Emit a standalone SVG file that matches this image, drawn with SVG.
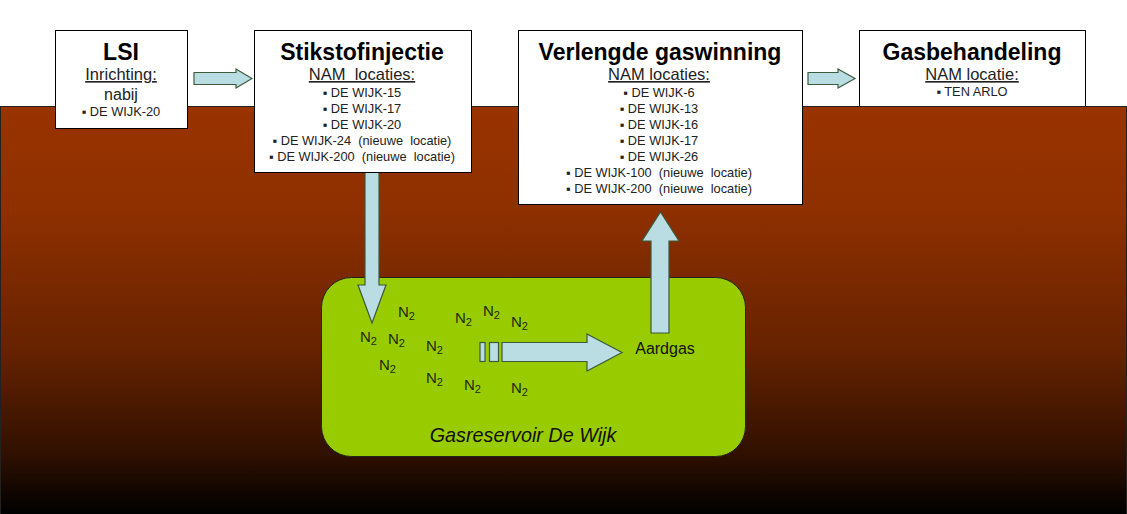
<svg xmlns="http://www.w3.org/2000/svg" width="1127" height="514" viewBox="0 0 1127 514">
<style>
text{font-family:"Liberation Sans",Arial,sans-serif;text-anchor:middle;fill:#111}
.box{fill:#fff;stroke:#000;stroke-width:1}
.t{font-size:23px;font-weight:bold;fill:#000}
.h{font-size:16.500px;text-decoration:underline;fill:#222}
.n{font-size:16px;fill:#222}
.i{font-size:12.800px;fill:#222}
.g{font-size:15px;text-anchor:start;fill:#1c2a00}
.s{font-size:11px;fill:#1c2a00}
.arrow{fill:#b9dde3;stroke:#3c5a3c;stroke-width:1.2}
</style>
<defs>
<linearGradient id="earth" x1="0" y1="0" x2="0" y2="1">
<stop offset="0" stop-color="#993300"/>
<stop offset="0.25" stop-color="#8f3000"/>
<stop offset="0.6" stop-color="#662200"/>
<stop offset="0.85" stop-color="#301000"/>
<stop offset="1" stop-color="#000"/>
</linearGradient>
</defs>
<rect width="1127" height="514" fill="#fff"/>
<g id="gasbehandeling">
<rect class="box" x="859.500" y="30.500" width="226" height="80"/>
<text class="t" x="972" y="59.500">Gasbehandeling</text>
<text class="h" x="972" y="80">NAM locatie:</text>
<text class="i" x="972" y="96">▪ TEN ARLO</text>
</g>
<rect id="ground" x="0.500" y="106.500" width="1126" height="408" fill="url(#earth)" stroke="#222" stroke-width="1"/>
<g id="reservoir">
<rect x="321.500" y="277.500" width="424" height="179" rx="30" ry="30" fill="#99cc00" stroke="#222" stroke-width="1"/>
<text x="523" y="442" font-size="19.800" font-style="italic" fill="#111">Gasreservoir De Wijk</text>
</g>
<g id="connectors">
<polygon class="arrow" points="194,72.500 236,72.500 236,69 252,78.500 236,88 236,84.500 194,84.500"/>
<polygon class="arrow" points="808,72.500 838,72.500 838,69 855,78.500 838,88 838,84.500 808,84.500"/>
<polygon class="arrow" points="365,172 379,172 379,285 386,285 372,323 358,285 365,285"/>
<polygon class="arrow" points="651,333 669,333 669,241 679,241 660.500,212 642,241 651,241"/>
<rect class="arrow" x="480" y="342.500" width="5" height="19"/>
<rect class="arrow" x="489.500" y="342.500" width="9" height="19"/>
<polygon class="arrow" points="502,342.500 587,342.500 587,334 622,352.500 587,371 587,361.500 502,361.500"/>
</g>
<g id="lsi">
<rect class="box" x="55.500" y="30.500" width="132" height="98"/>
<text class="t" x="121" y="59.500">LSI</text>
<text class="h" x="121" y="80">Inrichting:</text>
<text class="n" x="121" y="100">nabij</text>
<text class="i" x="121" y="116">▪ DE WIJK-20</text>
</g>
<g id="stikstofinjectie">
<rect class="box" x="254.500" y="30.500" width="217" height="142"/>
<text class="t" x="362" y="59.500">Stikstofinjectie</text>
<text class="h" x="362" y="80" xml:space="preserve">NAM  locaties:</text>
<text class="i" x="362" y="97">▪ DE WIJK-15</text>
<text class="i" x="362" y="113">▪ DE WIJK-17</text>
<text class="i" x="362" y="129">▪ DE WIJK-20</text>
<text class="i" x="362" y="145" xml:space="preserve">▪ DE WIJK-24  (nieuwe  locatie)</text>
<text class="i" x="362" y="161" xml:space="preserve">▪ DE WIJK-200  (nieuwe  locatie)</text>
</g>
<g id="verlengde">
<rect class="box" x="518.500" y="30.500" width="284" height="174"/>
<text class="t" x="660" y="59.500">Verlengde gaswinning</text>
<text class="h" x="659" y="80">NAM locaties:</text>
<text class="i" x="659" y="97">▪ DE WIJK-6</text>
<text class="i" x="659" y="113">▪ DE WIJK-13</text>
<text class="i" x="659" y="129">▪ DE WIJK-16</text>
<text class="i" x="659" y="145">▪ DE WIJK-17</text>
<text class="i" x="659" y="161">▪ DE WIJK-26</text>
<text class="i" x="659" y="177" xml:space="preserve">▪ DE WIJK-100  (nieuwe  locatie)</text>
<text class="i" x="659" y="193" xml:space="preserve">▪ DE WIJK-200  (nieuwe  locatie)</text>
</g>
<g id="gases">
<text class="g" x="398" y="317">N<tspan class="s" dy="3">2</tspan></text>
<text class="g" x="455" y="323">N<tspan class="s" dy="3">2</tspan></text>
<text class="g" x="483" y="316">N<tspan class="s" dy="3">2</tspan></text>
<text class="g" x="511" y="327">N<tspan class="s" dy="3">2</tspan></text>
<text class="g" x="360" y="342">N<tspan class="s" dy="3">2</tspan></text>
<text class="g" x="388" y="344">N<tspan class="s" dy="3">2</tspan></text>
<text class="g" x="426" y="351">N<tspan class="s" dy="3">2</tspan></text>
<text class="g" x="379" y="370">N<tspan class="s" dy="3">2</tspan></text>
<text class="g" x="426" y="383">N<tspan class="s" dy="3">2</tspan></text>
<text class="g" x="464" y="390">N<tspan class="s" dy="3">2</tspan></text>
<text class="g" x="511" y="393">N<tspan class="s" dy="3">2</tspan></text>
<text x="665" y="354" font-size="16" fill="#1c2a00">Aardgas</text>
</g>
</svg>
